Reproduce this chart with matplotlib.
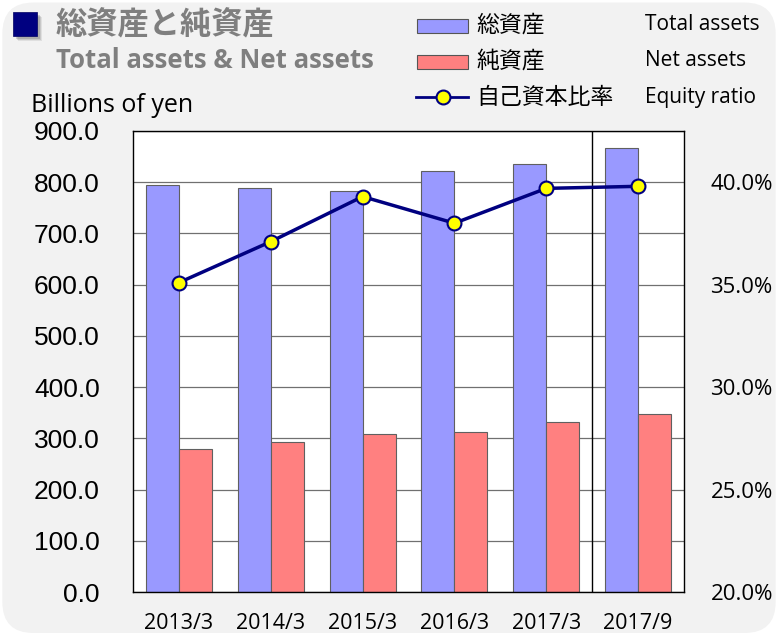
import numpy as np
import matplotlib
matplotlib.use('Agg')
import matplotlib.pyplot as plt
from matplotlib.patches import FancyBboxPatch, Rectangle
from matplotlib.lines import Line2D
from matplotlib.ticker import FuncFormatter

# data
periods = ['2013/3', '2014/3', '2015/3', '2016/3', '2017/3', '2017/9']
total_assets = [794, 788, 783, 821, 836, 866]
net_assets = [279, 293, 308, 312, 332, 347]
equity_ratio = [35.1, 37.1, 39.3, 38.0, 39.7, 39.8]

left_ticks = [0, 100, 200, 300, 400, 500, 600, 700, 800, 900]
right_ticks = [20, 25, 30, 35, 40]

W, H = 778, 633
fig = plt.figure(figsize=(W / 100, H / 100), dpi=100, facecolor='white')

# rounded grey panel behind everything
bg = FancyBboxPatch((0.003, 0.0), 0.994, 0.996,
                    boxstyle='round,pad=0,rounding_size=0.04',
                    mutation_aspect=W / H, transform=fig.transFigure,
                    facecolor='#f2f2f2', edgecolor='none', zorder=-10)
fig.patches.append(bg)


def px(x, y):
    # pixel (from top-left) -> figure fraction
    return x / W, 1 - y / H


# title square with soft shadow
for off, a in [(5, 0.10), (4, 0.15), (3, 0.2)]:
    fig.patches.append(Rectangle(px(13 + off, 36 + off), 24 / W, 24 / H,
                                 transform=fig.transFigure, facecolor='#404040',
                                 alpha=a, edgecolor='none'))
fig.patches.append(Rectangle(px(13, 36), 24 / W, 24 / H, transform=fig.transFigure,
                             facecolor='#000080', edgecolor='#000060', lw=0.5))

fig.text(*px(56, 25), '総資産と純資産', fontsize=22.5, fontweight='bold', color='#7f7f7f',
         family=['Noto Sans CJK JP', 'DejaVu Sans'], va='center', ha='left')
fig.text(*px(56, 60), 'Total assets & Net assets', fontsize=18.5, fontweight='bold',
         color='#7f7f7f', family='Open Sans', va='center', ha='left')
fig.text(*px(31, 105), 'Billions of yen', fontsize=18, color='black',
         family='Open Sans', va='center', ha='left')

# legend, drawn by hand
jp = ['Noto Sans CJK JP', 'DejaVu Sans']
fig.patches.append(Rectangle(px(417, 33), 51 / W, 14 / H, transform=fig.transFigure,
                             facecolor='#9999ff', edgecolor='#555555', lw=0.8))
fig.patches.append(Rectangle(px(417, 69), 51 / W, 14 / H, transform=fig.transFigure,
                             facecolor='#ff8080', edgecolor='#555555', lw=0.8))
x0, yl = px(416, 97)
x1, _ = px(468, 97)
fig.lines.append(Line2D([x0, x1], [yl, yl], transform=fig.transFigure, color='#000080', lw=2))
xm, _ = px(443, 97)
fig.lines.append(Line2D([xm], [yl], transform=fig.transFigure, marker='o', ms=10,
                        markerfacecolor='yellow', markeredgecolor='#000080', mew=1.5))
for y, t in [(25, '総資産'), (61, '純資産'), (97, '自己資本比率')]:
    fig.text(*px(476, y), t, fontsize=16.5, family=jp, va='center', ha='left')
for y, t in [(25, 'Total assets'), (61, 'Net assets'), (97, 'Equity ratio')]:
    fig.text(*px(645, y), t, fontsize=15, family='Open Sans', va='center', ha='left')

# main axes
ax = fig.add_axes([133 / W, 1 - 592 / H, (684 - 133) / W, (592 - 131) / H])
ax.set_facecolor('white')
x = np.arange(len(periods))
bw = 0.36
ax.bar(x - bw / 2, total_assets, bw, color='#9999ff', edgecolor='#606060', lw=0.8, zorder=2)
ax.bar(x + bw / 2, net_assets, bw, color='#ff8080', edgecolor='#606060', lw=0.8, zorder=2)
ax.set_xlim(-0.5, len(periods) - 0.5)
ax.set_ylim(0, 900)
ax.set_yticks(left_ticks)
ax.yaxis.set_major_formatter(FuncFormatter(lambda v, p: f'{v:.1f}'))
ax.yaxis.grid(True, color='#707070', lw=0.9, zorder=0)
ax.set_axisbelow(True)
ax.axvline(len(periods) - 1.5, color='black', lw=1, zorder=3)
ax.set_xticks(x)
ax.set_xticklabels(periods, family='Open Sans', fontsize=15.5)
ax.tick_params(axis='x', length=0, pad=15)
ax.tick_params(axis='y', length=0, pad=24, labelsize=19)
for lab in ax.get_yticklabels():
    lab.set_family('Liberation Sans')
for s in ax.spines.values():
    s.set_color('black')
    s.set_linewidth(1)

ax2 = ax.twinx()
ax2.plot(x, equity_ratio, color='#000080', lw=2.5, marker='o', ms=10,
         markerfacecolor='yellow', markeredgecolor='#000080', mew=1.5, zorder=5)
ax2.set_ylim(20, 42.5)
ax2.set_yticks(right_ticks)
ax2.yaxis.set_major_formatter(FuncFormatter(lambda v, p: f'{v:.1f}%'))
ax2.tick_params(axis='y', length=0, pad=19, labelsize=16)
for lab in ax2.get_yticklabels():
    lab.set_family('Open Sans')
for s in ax2.spines.values():
    s.set_visible(False)

fig.savefig('out.png', dpi=100, facecolor=fig.get_facecolor())
